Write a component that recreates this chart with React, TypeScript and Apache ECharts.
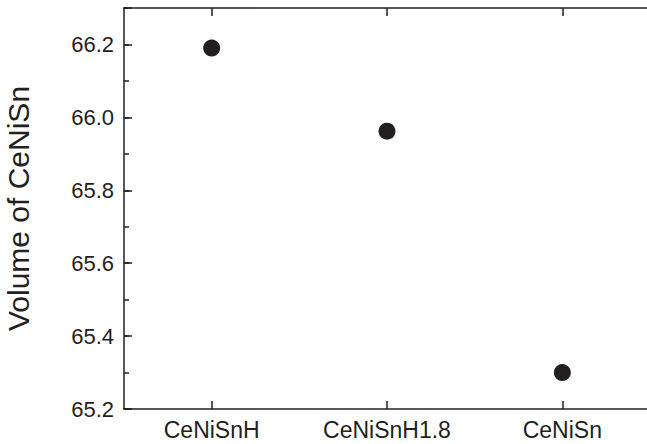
import React, { useEffect, useRef } from "react";
import * as echarts from "echarts";

const categories = ["CeNiSnH", "CeNiSnH1.8", "CeNiSn"];
const volumes = [66.19, 65.962, 65.3];
const yMin = 65.2;
const yMax = 66.3;
const yName = "Volume of CeNiSn";

const INK = "#231f20";
const FONT = "'Liberation Sans', Arial, Helvetica, sans-serif";

export default function App() {
  const ref = useRef<HTMLDivElement>(null);
  useEffect(() => {
    if (!ref.current) return;
    const chart = echarts.init(ref.current, null, { renderer: "svg" });
    const lineStyle = { color: INK, width: 1.5 };
    const leftMajor = {
      type: "value",
      position: "left",
      min: yMin,
      max: yMax,
      interval: 0.2,
      axisLine: { show: true, onZero: false, lineStyle },
      axisTick: { show: true, inside: true, length: 8, lineStyle },
      axisLabel: {
        show: true,
        margin: 10,
        color: INK,
        fontSize: 22,
        fontFamily: FONT,
        formatter: (v: number) => (Math.abs(v - yMax) < 1e-6 ? "" : v.toFixed(1)),
      },
      splitLine: { show: false },
      name: yName,
      nameLocation: "middle",
      nameGap: 91,
      nameTextStyle: { color: INK, fontSize: 30, fontFamily: FONT },
    };
    const leftMinor = {
      type: "value",
      position: "left",
      min: yMin,
      max: yMax,
      interval: 0.1,
      axisLine: { show: false },
      axisTick: { show: true, inside: true, length: 5, lineStyle },
      axisLabel: { show: false },
      splitLine: { show: false },
    };
    const xAx = (position: "bottom" | "top", labels: boolean) => ({
      type: "category",
      position,
      data: categories,
      boundaryGap: true,
      axisLine: { show: true, onZero: false, lineStyle },
      axisTick: { show: true, inside: true, length: 8, alignWithLabel: true, lineStyle },
      axisLabel: {
        show: labels,
        margin: 9,
        color: INK,
        fontSize: 23,
        fontFamily: FONT,
      },
      splitLine: { show: false },
    });
    chart.setOption({
      animation: false,
      backgroundColor: "#ffffff",
      grid: {
        left: 124,
        top: 8,
        width: 526,
        height: 401,
        containLabel: false,
        outerBoundsMode: "none",
      },
      xAxis: [xAx("bottom", true), xAx("top", false)],
      yAxis: [leftMajor, leftMinor],
      series: [
        {
          type: "scatter",
          xAxisIndex: 0,
          yAxisIndex: 0,
          data: volumes,
          symbol: "circle",
          symbolSize: 17,
          itemStyle: { color: INK, opacity: 1 },
        },
      ],
    });
    return () => chart.dispose();
  }, []);
  return <div ref={ref} style={{ width: 647, height: 444, position: "fixed", left: 0, top: 0 }} />;
}
